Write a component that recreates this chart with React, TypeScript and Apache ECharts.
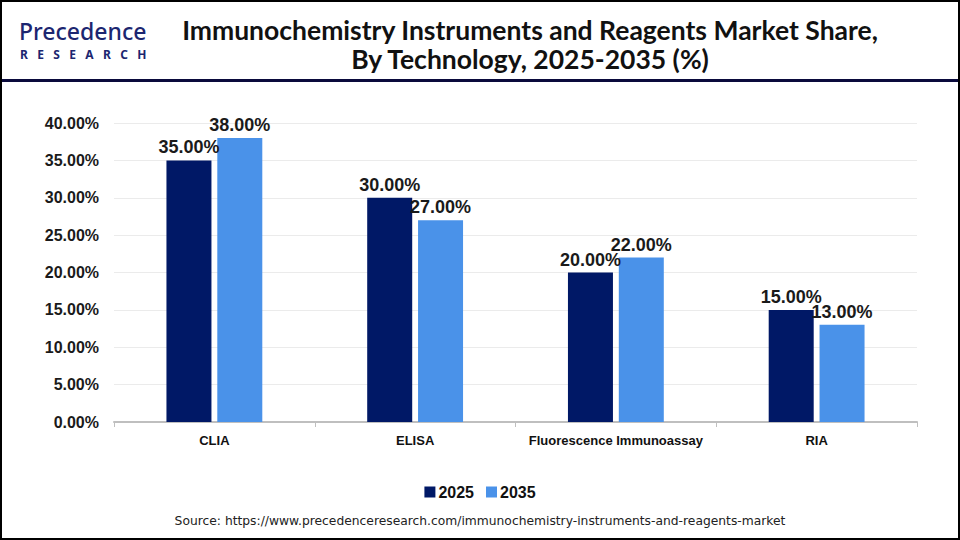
import React, { useEffect, useRef } from "react";
import * as echarts from "echarts";

const categories = ["CLIA", "ELISA", "Fluorescence Immunoassay", "RIA"];
const series2025 = [35, 30, 20, 15];
const series2035 = [38, 27, 22, 13];
const seriesNames = ["2025", "2035"];
const yTicks = { min: 0, max: 40, interval: 5 };

const TITLE_1 = "Immunochemistry Instruments and Reagents Market Share,";
const TITLE_2 = "By Technology, 2025-2035 (%)";
const SOURCE = "Source: https://www.precedenceresearch.com/immunochemistry-instruments-and-reagents-market";
const LOGO_TOP = "Precedence";
const LOGO_BOTTOM = "R   E   S   E   A   R   C   H";

export default function App() {
  const ref = useRef<HTMLDivElement>(null);
  useEffect(() => {
    document.body.style.margin = "0";
    const chart = echarts.init(ref.current!, null, { renderer: "svg" });
    const label = {
      show: true,
      position: "top",
      distance: 4,
      fontSize: 18,
      fontWeight: "bold",
      fontFamily: "Liberation Sans, Arial, sans-serif",
      color: "#1a1a1a",
      formatter: (p: any) => `${Number(p.value).toFixed(2)}%`,
    };
    const titleStyle = {
      fontSize: 26.5,
      fontWeight: "bold",
      fontFamily: "Lato, Open Sans, sans-serif",
      fill: "#111111",
      align: "center",
      verticalAlign: "middle",
    };
    chart.setOption({
      animation: false,
      backgroundColor: "#ffffff",
      graphic: [
        {
          type: "rect",
          shape: { x: 1, y: 1, width: 958, height: 538 },
          style: { fill: "none", stroke: "#000000", lineWidth: 2 },
          z: 100,
        },
        {
          type: "line",
          shape: { x1: 0, y1: 80.5, x2: 960, y2: 80.5 },
          style: { stroke: "#0a0a3c", lineWidth: 3 },
        },
        { type: "text", x: 530, y: 30, style: { ...titleStyle, text: TITLE_1 } },
        { type: "text", x: 530, y: 59, style: { ...titleStyle, text: TITLE_2 } },
        {
          type: "text",
          x: 19,
          y: 31,
          style: {
            text: LOGO_TOP,
            fontSize: 23,
            lineHeight: 22,
            fontWeight: 500,
            fontFamily: "Noto Sans, sans-serif",
            fill: "#1c2670",
            align: "left",
            verticalAlign: "middle",
          },
        },
        {
          type: "text",
          x: 20,
          y: 54,
          style: {
            text: LOGO_BOTTOM,
            fontSize: 12,
            lineHeight: 12,
            fontWeight: "bold",
            fontFamily: "Noto Sans, sans-serif",
            fill: "#1c2670",
            align: "left",
            verticalAlign: "middle",
          },
        },
        {
          type: "text",
          x: 480,
          y: 521,
          style: {
            text: SOURCE,
            fontSize: 12.3,
            fontFamily: "DejaVu Sans, sans-serif",
            fill: "#222222",
            align: "center",
            verticalAlign: "middle",
          },
        },
      ],
      legend: {
        data: seriesNames,
        left: "center",
        top: 479,
        itemWidth: 11,
        itemHeight: 11,
        itemGap: 12,
        icon: "rect",
        textStyle: {
          fontSize: 16,
          fontWeight: "bold",
          fontFamily: "Liberation Sans, Arial, sans-serif",
          color: "#111111",
          padding: [0, 0, 0, -2],
        },
      },
      grid: { left: 114, right: 43, top: 123, bottom: 118 },
      xAxis: {
        type: "category",
        data: categories,
        axisLine: { lineStyle: { color: "#bfbfbf", width: 2 } },
        axisTick: { show: true, alignWithLabel: false, length: 5, lineStyle: { color: "#bfbfbf" } },
        axisLabel: {
          interval: 0,
          fontSize: 13,
          fontWeight: "bold",
          fontFamily: "Liberation Sans, Arial, sans-serif",
          color: "#111111",
          margin: 12,
        },
      },
      yAxis: {
        type: "value",
        min: yTicks.min,
        max: yTicks.max,
        interval: yTicks.interval,
        axisLine: { show: false },
        axisTick: { show: false },
        splitLine: { lineStyle: { color: "#ebebeb", width: 1 } },
        axisLabel: {
          fontSize: 16,
          fontWeight: "bold",
          fontFamily: "Liberation Sans, Arial, sans-serif",
          color: "#1a1a1a",
          margin: 15,
          formatter: (v: number) => `${v.toFixed(2)}%`,
        },
      },
      series: [
        {
          name: seriesNames[0],
          type: "bar",
          data: series2025,
          barWidth: 45,
          barGap: "13%",
          itemStyle: { color: "#001866" },
          label,
        },
        {
          name: seriesNames[1],
          type: "bar",
          data: series2035,
          barWidth: 45,
          barGap: "13%",
          itemStyle: { color: "#4a92e9" },
          label,
        },
      ],
    });
    return () => chart.dispose();
  }, []);
  return <div ref={ref} style={{ width: 960, height: 540 }} />;
}
